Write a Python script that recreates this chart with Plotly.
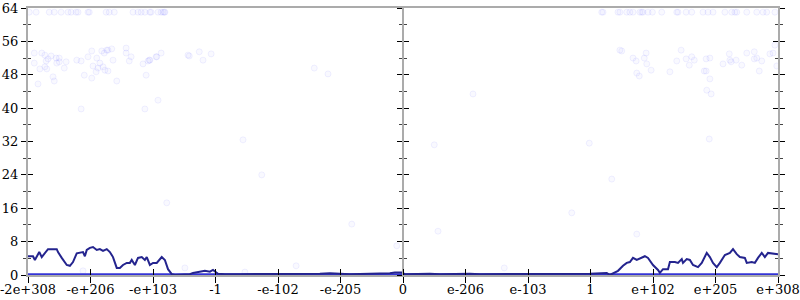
import plotly.graph_objects as go

# x in "tick units" (100 per labelled step), y in bits
tick_vals = [-600, -500, -400, -300, -200, -100, 0, 100, 200, 300, 400, 500, 600]
tick_text = ["-2e+308", "-e+206", "-e+103", "-1", "-e-102", "-e-205", "0",
             "e-206", "e-103", "1", "e+102", "e+205", "e+308"]
y_ticks = [0, 8, 16, 24, 32, 40, 48, 56, 64]

# running average (dark line)
avg_x = [-600, -592, -589, -586, -582, -578, -573, -568, -554, -552, -546, -538, -533,
         -528, -522, -512, -509, -506, -501, -496, -490, -485, -480, -474, -469, -464,
         -458, -453, -448, -442, -437, -434, -429, -424, -418, -413, -410, -405, -400,
         -394, -386, -381, -376, -370, -365, -341, -336, -325, -317, -309, -304, -296,
         -285, -261, -197, -133, -117, -101, -93, -85, -21, -13, -2, 3, 43, 59, 107, 123,
         299, 315, 326, 331, 339, 344, 352, 358, 363, 368, 374, 382, 387, 392, 400, 408,
         411, 416, 424, 427, 435, 440, 446, 448, 454, 459, 464, 472, 478, 486, 491, 496,
         502, 507, 515, 523, 528, 534, 539, 547, 550, 558, 563, 568, 574, 579, 584, 600]
avg_y = [4.5, 4.5, 3.6, 4.5, 5.5, 4.3, 5.2, 6.2, 6.2, 5.5, 4.1, 2.4, 2.2,
         3.1, 5.2, 5.5, 4.5, 6.0, 6.5, 6.7, 6.0, 6.2, 5.8, 6.2, 5.5, 4.3,
         1.7, 1.7, 2.4, 2.9, 2.9, 3.6, 2.4, 4.1, 4.3, 3.6, 4.3, 2.4, 2.9,
         2.9, 4.3, 3.6, 1.4, 0.2, 0.0, 0.2, 0.5, 0.7, 1.0, 0.8, 1.2, 0.3,
         0.2, 0.2, 0.2, 0.3, 0.4, 0.3, 0.4, 0.2, 0.4, 0.6, 0.6, 0.2, 0.3, 0.2, 0.3, 0.2,
         0.3, 0.5, 0.5, 0.0, 0.5, 1.0, 2.2, 2.9, 3.1, 4.1, 3.6, 4.1, 4.5, 4.1, 2.4, 1.2,
         0.5, 1.4, 1.4, 3.1, 3.1, 2.9, 3.8, 2.9, 3.8, 3.6, 2.4, 1.9, 2.9, 5.3, 4.3, 2.9,
         1.9, 2.9, 4.8, 5.3, 6.2, 5.0, 4.3, 4.1, 2.9, 3.1, 2.9, 4.1, 5.3, 4.3, 5.3, 5.0]

# exact results (bits of error = 0) across the whole range
zero_x = [-600, 600]
zero_y = [0, 0]

# faint individual samples
top_x = [-598, -587, -566, -558, -547, -536, -531, -523, -520, -504, -502, -475, -470,
         -462, -432, -424, -419, -413, -405, -403, -392, -387, -384, -382, -381,
         318, 320, 344, 347, 358, 363, 368, 379, 382, 384, 392, 399, 414, 438, 440,
         453, 462, 480, 488, 496, 515, 526, 531, 534, 550, 566, 576, 582, 595]
top_y = [63] * len(top_x)

pts_x = [-590, -590, -584, -581, -578, -573, -571, -573, -568, -570, -563, -560, -558,
         -555, -554, -550, -550, -542, -539, -522, -515, -515, -510, -504, -498, -498,
         -496, -491, -490, -488, -485, -482, -480, -478, -474, -477, -472, -472, -466,
         -464, -458, -443, -443, -438, -435, -416, -411, -413, -408, -406, -394, -392,
         -387, -342, -326, -405, -395, -344, -320, -307, -142, -120, -256, -226, -378,
         -82, -10, 50, 298, 334, 270, 56, 112, 347, -171, -253, 350, 368, 373, 386, 389,
         390, 397, 374, 378, 427, 438, 445, 453, 458, 462, 466, 482, 485, 485, 491, 491,
         486, 493, 490, 512, 522, 523, 525, 533, 542, 550, 562, 562, 566, 570, 574, 587,
         592, 595, 598, 374, 162, -512, -349]
pts_y = [53.2, 50.8, 45.8, 49.4, 53.2, 52.7, 51.3, 49.9, 51.8, 49.4, 52.5, 47.5, 46.5,
         52.0, 50.8, 51.1, 52.0, 49.6, 51.1, 51.5, 51.3, 39.8, 47.9, 52.3, 53.7, 47.2,
         50.1, 48.7, 52.0, 49.6, 50.8, 53.7, 49.9, 53.2, 53.9, 49.1, 48.9, 53.9, 54.2,
         51.5, 46.5, 54.4, 53.2, 51.3, 52.3, 50.6, 47.9, 39.8, 51.3, 51.5, 52.3, 41.9,
         53.2, 52.5, 53.5, 51.5, 52.3, 52.7, 51.5, 53.0, 49.6, 48.2, 32.4, 24.0, 17.3,
         12.2, 7.0, 31.2, 31.6, 23.0, 14.9, 10.5, 43.4, 53.9, 2.2, 0.7, 53.7, 52.0, 51.3, 52.0, 53.2,
         50.6, 49.1, 48.4, 47.7, 48.7, 51.3, 53.9, 51.8, 50.3, 52.3, 51.5, 48.9, 48.9, 51.8, 52.0, 47.0,
         44.3, 43.4, 32.6, 50.6, 53.0, 51.5, 51.1, 51.5, 50.3, 53.2, 53.5, 51.8, 52.0, 48.9, 51.3, 53.0,
         53.2, 55.1, 50.1, 9.8, 1.7, 1.0, 1.7]

FONT = dict(family="DejaVu Serif", size=13, color="black")
AXIS_GREY = "#ababab"

fig = go.Figure()
fig.add_trace(go.Scatter(x=top_x + pts_x, y=top_y + pts_y, mode="markers",
                         marker=dict(size=6, color="rgba(80,80,255,0.035)",
                                     line=dict(color="rgba(80,80,255,0.08)", width=1)),
                         hoverinfo="skip"))
fig.add_trace(go.Scatter(x=zero_x, y=zero_y, mode="lines",
                         line=dict(color="#3434d6", width=3.5)))
fig.add_trace(go.Scatter(x=avg_x, y=avg_y, mode="lines",
                         line=dict(color="#24248e", width=2)))
# helper traces so that the overlay axes are drawn
fig.add_trace(go.Scatter(x=[None], y=[None], xaxis="x2", yaxis="y2", showlegend=False))
fig.add_trace(go.Scatter(x=[None], y=[None], xaxis="x", yaxis="y3", showlegend=False))
fig.add_trace(go.Scatter(x=[None], y=[None], xaxis="x", yaxis="y4", showlegend=False))

xrange = [-600, 600]
yrange = [0, 64]


def yax(ticks, **kw):
    d = dict(range=yrange, tickmode="array", tickvals=y_ticks, showgrid=False,
             zeroline=False, tickcolor="black", tickwidth=1, ticklen=5,
             linecolor=AXIS_GREY, linewidth=2, showline=True, automargin=False,
             ticks=ticks, ticklabeloverflow="allow",
             minor=dict(dtick=4, tick0=0, ticklen=3, ticks=ticks, tickcolor="#444"))
    d.update(kw)
    return d


fig.update_layout(
    width=800, height=300,
    margin=dict(l=28, r=22, t=8, b=25),
    paper_bgcolor="white", plot_bgcolor="white",
    showlegend=False,
    font=FONT,
    xaxis=dict(range=xrange, tickmode="array", tickvals=tick_vals, ticktext=tick_text,
               showgrid=False, zeroline=False, ticks="outside", ticklen=6,
               tickcolor="black", tickwidth=1, showline=True, linecolor=AXIS_GREY,
               linewidth=2, mirror=True, tickfont=FONT, automargin=False,
               ticklabeloverflow="allow", ticklabelstandoff=-5),
    xaxis2=dict(range=xrange, overlaying="x", anchor="y", side="bottom",
                tickmode="array", tickvals=tick_vals, showticklabels=False,
                showgrid=False, zeroline=False, ticks="inside", ticklen=6,
                tickcolor="black", tickwidth=1, showline=False, automargin=False),
    yaxis=yax("outside", mirror="ticks", tickfont=FONT),
    yaxis2=yax("inside", overlaying="y", anchor="x", side="left", mirror="ticks",
               showticklabels=False),
    yaxis3=yax("outside", overlaying="y", anchor="free", position=0.5, side="left",
               showticklabels=False),
    yaxis4=yax("inside", overlaying="y", anchor="free", position=0.5, side="left",
               showticklabels=False),
)

fig.write_html("out.html")
